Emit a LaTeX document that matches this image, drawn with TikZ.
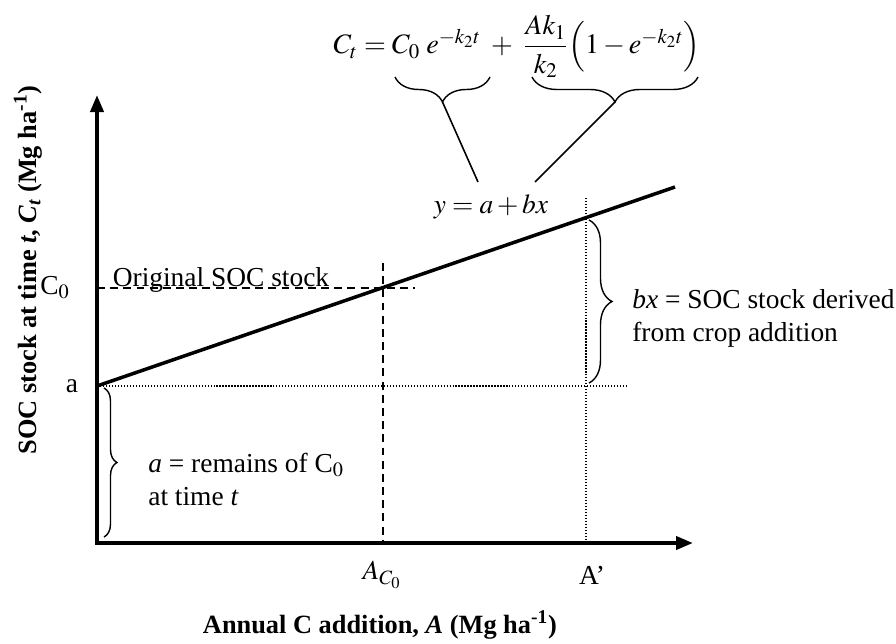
\documentclass[tikz,border=0pt]{standalone}
\usepackage{amsmath}
\usepackage{mathptmx}
\usepackage{fontspec}
\setmainfont{Liberation Serif}
\usepackage{tikz}
\usetikzlibrary{arrows.meta,decorations.pathreplacing}

\begin{document}
\begin{tikzpicture}[
      >={Triangle[length=3.4mm,width=2.6mm]},
      axis/.style={line width=2.2pt},
      trend/.style={line width=2pt},
      guide/.style={line width=0.7pt, dash pattern=on 4.5pt off 3pt},
      dotline/.style={line width=0.6pt, dash pattern=on 0.7pt off 1pt},
      brc/.style={decorate, decoration={brace, amplitude=#1}, line width=0.8pt},
      link/.style={line width=0.9pt},
      txt/.style={font=\fontsize{15.6}{18.8}\selectfont, inner sep=0pt},
      axlbl/.style={font=\fontsize{15}{18}\selectfont\bfseries, inner sep=0pt}]
    \useasboundingbox (-1.94,-2.0) rectangle (15.98,10.86);
    \coordinate (O) at (0,0);
    \coordinate (ytip) at (0,8.96);
    \coordinate (xtip) at (11.92,0);
    \coordinate (a) at (0,3.14);
    \coordinate (c0) at (0,5.10);
    \coordinate (c0end) at (6.36,5.10);
    \coordinate (aend) at (10.62,3.14);
    \coordinate (top) at (11.56,7.12);
    \coordinate (ac0top) at (5.72,5.60);
    \coordinate (ac0bot) at (5.72,0);
    \coordinate (aptop) at (9.78,6.90);
    \coordinate (apbot) at (9.78,0);
    \draw[guide] (c0) -- (c0end);
    \draw[guide] (ac0top) -- (ac0bot);
    \draw[dotline] (a) -- (aend);
    \draw[dotline] (aptop) -- (apbot);
    \draw[trend] (a) -- (top);
    \draw[axis,<->] (ytip) -- (O) -- (xtip);
    \node[txt] (lc0) at (-0.84,5.10) {C$_0$};
    \node[txt] (la) at (-0.50,3.14) {a};
    \node[txt, anchor=base] (orig) at (2.48,5.13) {Original SOC stock};
    \node[txt] (lac0) at (5.70,-0.64) {$A_{C_0}$};
    \node[txt] (lap) at (9.90,-0.64) {A'};
    \node[axlbl] (xl) at (5.66,-1.64) {Annual C addition, \textit{A} (Mg ha\textsuperscript{-1})};
    \node[axlbl, rotate=90] (yl) at (-1.38,5.46)
      {SOC stock at time \textit{t}, \textit{C\textsubscript{t}} (Mg ha\textsuperscript{-1})};
    \draw[brc=2.6mm] (0.14,3.10) -- (0.14,0.12);
    \node[txt, anchor=west, align=left] (rem) at (1.02,1.28)
      {\textit{a} = remains of C$_0$\\at time \textit{t}};
    \draw[brc=4.6mm] (9.84,6.46) -- (9.84,3.20);
    \node[txt, anchor=west, align=left] (bx) at (10.70,4.49)
      {\textit{bx} = SOC stock derived\\from crop addition};
    \node[txt, font=\fontsize{16}{19}\selectfont] (eq) at (8.40,9.93)
      {$C_t = C_0\;e^{-k_2t} \;+\; \dfrac{Ak_1}{k_2}\Bigl(1-e^{-k_2t}\Bigr)$};
    \draw[brc=5mm, decoration={mirror}] (5.96,9.32) -- (7.86,9.32);
    \draw[brc=5mm, decoration={mirror}] (8.70,9.32) -- (12.02,9.32);
    \coordinate (tipL) at (6.91,8.82);
    \coordinate (tipR) at (10.36,8.82);
    \node[txt] (eqy) at (7.88,6.72) {$y = a + bx$};
    \coordinate (lnL) at (7.62,7.22);
    \coordinate (lnR) at (8.76,7.22);
    \draw[link] (tipL) -- (lnL);
    \draw[link] (tipR) -- (lnR);
  \end{tikzpicture}
\end{document}
